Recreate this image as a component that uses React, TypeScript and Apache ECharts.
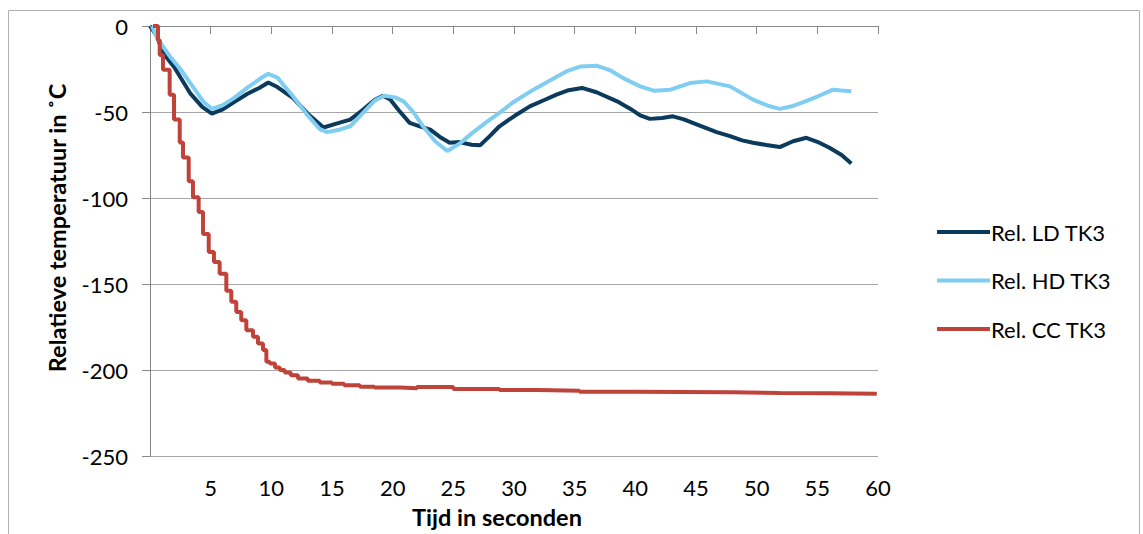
import React, { useEffect, useRef } from "react";
import * as echarts from "echarts";

const seriesNames = ["Rel. LD TK3", "Rel. HD TK3", "Rel. CC TK3"];
const yTicks = [0, -50, -100, -150, -200, -250];
const xTicks = [5, 10, 15, 20, 25, 30, 35, 40, 45, 50, 55, 60];

const ldTime = [0, 0.5, 1.1, 2, 3.3, 4.3, 5.1, 6, 7, 8, 9, 9.75, 10.5, 11.8, 13, 14.3, 15.5, 16.5, 17.5, 18.5, 19.2, 19.8, 20.5, 21.4, 22.3, 23.1, 24, 24.7, 25.5, 26.5, 27.2, 28, 28.8, 30, 31.3, 32.5, 33.5, 34.5, 35.6, 36.8, 38.5, 39.6, 40.4, 41.2, 42.2, 43.1, 44, 45.1, 46.7, 47.8, 48.8, 49.7, 50.8, 51.9, 53, 54.1, 55, 56, 57, 57.8];
const ldValue = [0, -5, -15.8, -24, -39, -47, -51, -48.5, -44, -39.5, -36, -32.8, -35.5, -41.9, -51, -59, -56.5, -54.4, -49, -43, -40.5, -42.8, -49, -56.3, -58.5, -60.2, -65, -67.9, -67.5, -69, -69.4, -64, -58.3, -52.5, -46.7, -43, -39.9, -37.3, -36, -38.5, -43.8, -48.2, -52, -54, -53.5, -52.5, -54.3, -57.3, -61.7, -64, -66.5, -67.9, -69.2, -70.4, -67, -65, -67.3, -70.8, -75, -79.9];

const hdTime = [0.15, 0.6, 1.65, 2.5, 3.5, 4.4, 5.1, 6, 7, 8, 9, 9.75, 10.5, 11.8, 13, 14, 14.6, 15.5, 16.5, 17.5, 18.5, 19.3, 20.2, 20.9, 21.7, 22.5, 23.5, 24.5, 25.5, 26.6, 27.7, 28.8, 30, 31.6, 33, 34.3, 35.5, 36.8, 38, 39, 40.4, 41.5, 42.9, 44.5, 45.9, 47.8, 49.7, 51, 51.9, 53, 53.8, 55, 56.3, 57, 57.8];
const hdValue = [0, -7, -17.8, -25, -35, -44, -48.2, -46, -41.5, -36, -31, -27.8, -30, -41, -52, -60, -61.7, -60.5, -58.3, -51, -43.5, -40.5, -41.5, -43.8, -50, -58.3, -67, -72.7, -68.5, -62, -56, -50.5, -44, -37, -31.5, -26.4, -23.5, -23.1, -26, -30.3, -35.1, -37.6, -37, -33.2, -32.2, -35.1, -42.8, -46.5, -48.2, -46.5, -44.4, -41, -37, -37.5, -38];

const ccTime = [0.25, 0.66, 0.8, 1.07, 1.62, 1.98, 2.45, 2.72, 3.19, 3.54, 4.01, 4.37, 4.84, 5.27, 5.74, 6.29, 6.7, 7.11, 7.52, 7.94, 8.49, 8.9, 9.31, 9.59, 9.87, 10.3, 10.7, 11.1, 11.6, 12.2, 13, 14, 15, 16, 17.3, 18.5, 20.6, 22, 25, 28.8, 32, 35.4, 40, 43.7, 48, 51.9, 56, 59.9];
const ccValue = [0, -8.1, -16.8, -25.5, -39.9, -54.4, -67.7, -76.4, -90.3, -99.5, -108.2, -120.9, -131.4, -137.2, -144.1, -153.9, -160.3, -166.3, -171.1, -176.9, -180.7, -184.6, -188.4, -195.2, -196.2, -198.5, -200, -201.5, -203, -204.9, -206.3, -207.3, -208, -208.8, -209.7, -210.2, -210.6, -209.9, -211, -211.6, -212, -212.6, -212.8, -213, -213.3, -213.5, -213.8, -214];

const colors = ["#0b3a5c", "#80cdf2", "#c0433a"];

const pairs = (t: number[], v: number[]) => t.map((x, i) => [x, v[i]]);

export default function App() {
  const ref = useRef<HTMLDivElement>(null);
  useEffect(() => {
    document.body.style.margin = "0";
    if (!ref.current) return;
    const chart = echarts.init(ref.current, undefined, { renderer: "svg" });
    const font = "Lato";
    chart.setOption({
      animation: false,
      backgroundColor: "#ffffff",
      graphic: [
        {
          type: "rect",
          shape: { x: 8.5, y: 10.5, width: 1131, height: 600 },
          style: { fill: "none", stroke: "#b0b0b0", lineWidth: 1 },
          silent: true,
        },
      ],
      grid: { left: 150, right: 265, top: 26, bottom: 76, containLabel: false },
      legend: {
        orient: "vertical",
        left: 932,
        top: 215,
        icon: "rect",
        itemWidth: 53,
        itemHeight: 4,
        itemGap: 24.5,
        textStyle: { fontFamily: font, fontSize: 22, color: "#000", lineHeight: 24, padding: [0, 0, 0, -4] },
        data: seriesNames,
      },
      xAxis: {
        type: "value",
        min: 0,
        max: 60,
        interval: 5,
        name: "Tijd in seconden",
        nameLocation: "middle",
        nameGap: 49,
        nameTextStyle: { fontFamily: font, fontSize: 23.5, fontWeight: "bold", color: "#000", padding: [0, 34, 0, 0] },
        axisLine: { show: true, lineStyle: { color: "#888888", width: 1 } },
        axisTick: { show: true, length: 8, inside: false, lineStyle: { color: "#888888" } },
        axisLabel: {
          fontFamily: font,
          fontSize: 22,
          color: "#000",
          margin: 20,
          formatter: (v: number) => (xTicks.includes(v) ? String(v) : ""),
        },
        splitLine: { show: false },
      },
      yAxis: {
        type: "value",
        min: -250,
        max: 0,
        interval: 50,
        name: "Relatieve temperatuur in ˚C",
        nameLocation: "middle",
        nameRotate: 90,
        nameGap: 81,
        nameTextStyle: { fontFamily: font, fontSize: 23.5, fontWeight: "bold", color: "#000", padding: [0, 0, 0, 26] },
        axisLine: { show: true, onZero: false, lineStyle: { color: "#888888", width: 1 } },
        axisTick: { show: true, length: 8, inside: false, lineStyle: { color: "#888888" } },
        axisLabel: {
          fontFamily: font,
          fontSize: 22,
          color: "#000",
          margin: 22,
          formatter: (v: number) => (yTicks.includes(v) ? String(v) : ""),
        },
        splitLine: { show: true, lineStyle: { color: "#a6a6a6", width: 1 } },
      },
      series: [
        {
          name: seriesNames[0],
          type: "line",
          symbol: "none",
          data: pairs(ldTime, ldValue),
          lineStyle: { color: colors[0], width: 4 },
          itemStyle: { color: colors[0] },
        },
        {
          name: seriesNames[1],
          type: "line",
          symbol: "none",
          data: pairs(hdTime, hdValue),
          lineStyle: { color: colors[1], width: 4 },
          itemStyle: { color: colors[1] },
        },
        {
          name: seriesNames[2],
          type: "line",
          symbol: "none",
          step: "end",
          data: pairs(ccTime, ccValue),
          lineStyle: { color: colors[2], width: 4 },
          itemStyle: { color: colors[2] },
        },
      ],
    });
    return () => chart.dispose();
  }, []);
  return <div ref={ref} style={{ width: 1143, height: 534 }} />;
}
